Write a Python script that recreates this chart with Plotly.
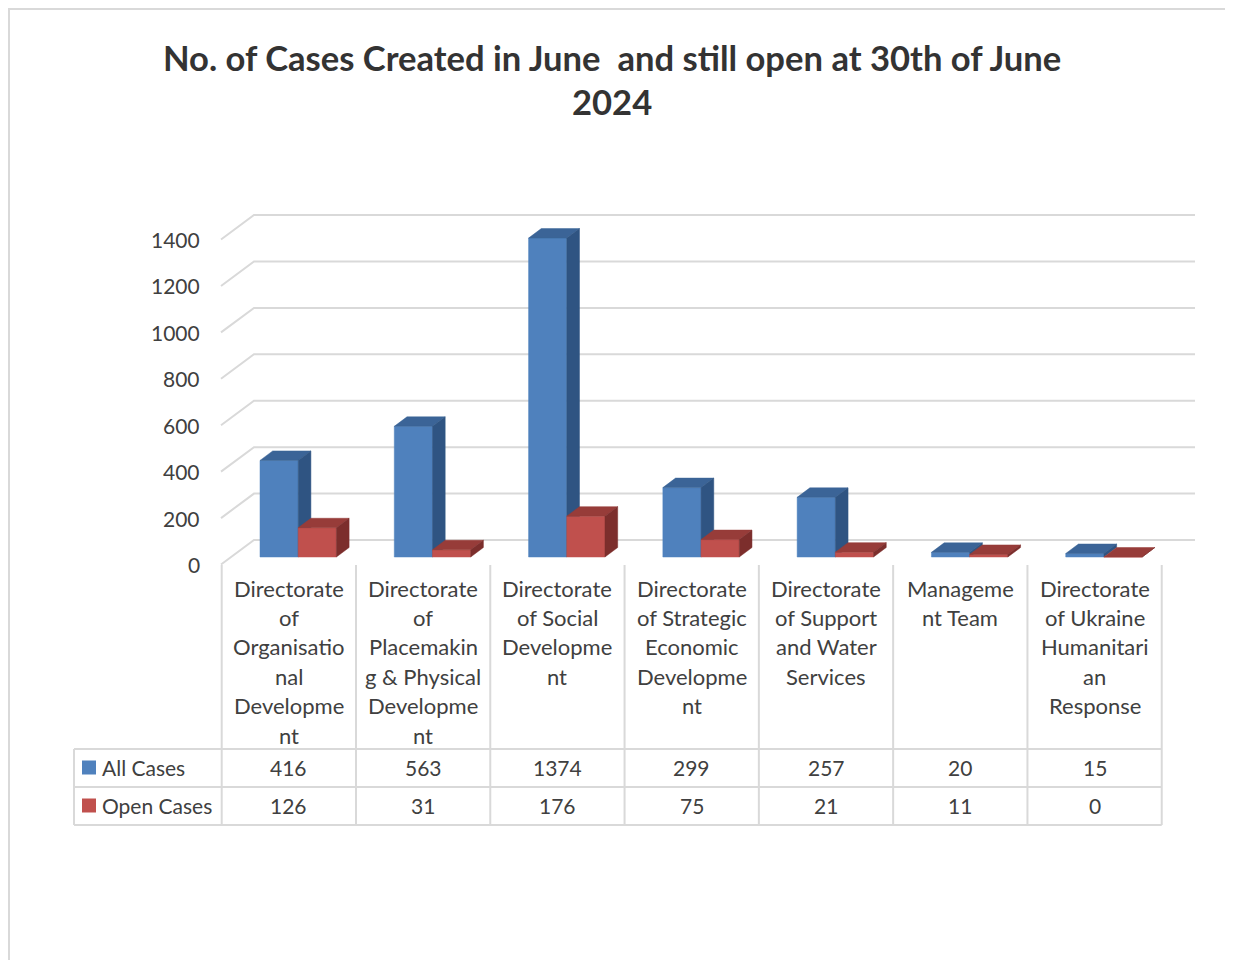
import plotly.graph_objects as go

# ---------------- data ----------------
categories = [
    "Directorate of Organisational Development",
    "Directorate of Placemaking & Physical Development",
    "Directorate of Social Development",
    "Directorate of Strategic Economic Development",
    "Directorate of Support and Water Services",
    "Management Team",
    "Directorate of Ukraine Humanitarian Response",
]
category_label_lines = [
    ["Directorate", "of", "Organisatio", "nal", "Developme", "nt"],
    ["Directorate", "of", "Placemakin", "g & Physical", "Developme", "nt"],
    ["Directorate", "of Social", "Developme", "nt"],
    ["Directorate", "of Strategic", "Economic", "Developme", "nt"],
    ["Directorate", "of Support", "and Water", "Services"],
    ["Manageme", "nt Team"],
    ["Directorate", "of Ukraine", "Humanitari", "an", "Response"],
]
series_names = ["All Cases", "Open Cases"]
all_cases = [416, 563, 1374, 299, 257, 20, 15]
open_cases = [126, 31, 176, 75, 21, 11, 0]
y_ticks = [0, 200, 400, 600, 800, 1000, 1200, 1400]
title_lines = ["No. of Cases Created in June\u00a0 and still open at 30th of June", "2024"]

# ---------------- geometry helpers (reference pixel layout -> axis units) ----------------
PAGE_OFF = 8            # default page margin of the html body
W, H = 1233 - PAGE_OFF, 960 - PAGE_OFF
COL_W = 134.29          # px per category
X_LEFT = 221.7          # px of left edge of first category column
BASE_PY = 557.0         # px of value 0 at bar front
PX_PER_UNIT = 0.2321    # px per value unit

def cx(px):
    return (px - X_LEFT) / COL_W - 0.5

def vy(py):
    return (BASE_PY - py) / PX_PER_UNIT

def xp(px):
    return (px - PAGE_OFF) / W

def yp(py):
    return 1 - (py - PAGE_OFF) / H

FONT = "Lato, 'Open Sans', sans-serif"
TXT = "#404040"
GRID = "#d9d9d9"

bar_w = 38.2 / COL_W
bar_off = cx(260) - 0.0
depth_dx = 12.7 / COL_W
depth_dy = 9.5 / PX_PER_UNIT
floor_front_dy = -7.5 / PX_PER_UNIT
wall_dy = 17.0 / PX_PER_UNIT
wall_x0 = cx(221)
wall_x1 = cx(254)
wall_x2 = cx(1195)

fig = go.Figure()

# back wall gridlines
gx, gy = [], []
for t in y_ticks:
    gx += [wall_x0, wall_x1, wall_x2, None]
    gy += [t + floor_front_dy, t + wall_dy, t + wall_dy, None]
fig.add_trace(go.Scatter(x=gx, y=gy, mode="lines", line=dict(color=GRID, width=2),
                         hoverinfo="skip", showlegend=False))

series = [
    (all_cases, 0, "#4f81bd", "#3b6497", "#2f5482"),
    (open_cases, 1, "#c0504d", "#973c39", "#7c2e2c"),
]
for vals, k, c_front, c_top, c_side in series:
    fx, fy, tx, ty, sx, sy = [], [], [], [], [], []
    for i, v in enumerate(vals):
        xl = i + bar_off + k * bar_w
        xr = xl + bar_w
        fx += [xl, xr, xr, xl, xl, None]
        fy += [0, 0, v, v, 0, None]
        tx += [xl, xr, xr + depth_dx, xl + depth_dx, xl, None]
        ty += [v, v, v + depth_dy, v + depth_dy, v, None]
        sx += [xr, xr + depth_dx, xr + depth_dx, xr, xr, None]
        sy += [0, depth_dy, v + depth_dy, v, 0, None]
    for X, Y, col in [(fx, fy, c_front), (tx, ty, c_top), (sx, sy, c_side)]:
        fig.add_trace(go.Scatter(x=X, y=Y, mode="lines", fill="toself", fillcolor=col,
                                 line=dict(color=col, width=0.5), hoverinfo="skip",
                                 showlegend=False))

annotations = []
shapes = []

# y tick labels
for t in y_ticks:
    annotations.append(dict(x=xp(202), y=t + floor_front_dy, xref="paper", yref="y",
                            text=str(t), showarrow=False, xanchor="right", yanchor="middle",
                            font=dict(family=FONT, size=21, color=TXT)))

# title
for j, line in enumerate(title_lines):
    annotations.append(dict(x=xp(612), y=yp(57 + 45 * j), xref="paper", yref="paper",
                            text="<b>" + line + "</b>", showarrow=False,
                            xanchor="center", yanchor="middle",
                            font=dict(family=FONT, size=34.6, color="#333333")))

# data table lines
col_edges = [X_LEFT + COL_W * k for k in range(len(categories) + 1)]
for k, ex in enumerate(col_edges):
    shapes.append(dict(type="line", xref="paper", yref="paper", x0=xp(ex), x1=xp(ex),
                       y0=yp(565), y1=yp(825), line=dict(color=GRID, width=2)))
shapes.append(dict(type="line", xref="paper", yref="paper", x0=xp(74), x1=xp(74),
                   y0=yp(749), y1=yp(825), line=dict(color=GRID, width=2)))
for ry in [749, 787, 825]:
    shapes.append(dict(type="line", xref="paper", yref="paper", x0=xp(74), x1=xp(col_edges[-1]),
                       y0=yp(ry), y1=yp(ry), line=dict(color=GRID, width=2)))

# category labels
for i, lines in enumerate(category_label_lines):
    for j, line in enumerate(lines):
        annotations.append(dict(x=i, y=yp(588 + 29.4 * j), xref="x", yref="paper",
                                text=line, showarrow=False, xanchor="center", yanchor="middle",
                                font=dict(family=FONT, size=22, color=TXT)))

# table values and legend keys
row_y = [767.5, 805.5]
colors = ["#4f81bd", "#c0504d"]
for r, (name, vals) in enumerate(zip(series_names, [all_cases, open_cases])):
    shapes.append(dict(type="rect", xref="paper", yref="paper", x0=xp(82), x1=xp(96),
                       y0=yp(row_y[r] - 7), y1=yp(row_y[r] + 7), fillcolor=colors[r],
                       line=dict(width=0)))
    annotations.append(dict(x=xp(100), y=yp(row_y[r]), xref="paper", yref="paper",
                            text=name, showarrow=False, xanchor="left", yanchor="middle",
                            font=dict(family=FONT, size=21, color=TXT)))
    for i, v in enumerate(vals):
        annotations.append(dict(x=i, y=yp(row_y[r]), xref="x", yref="paper",
                                text=str(v), showarrow=False, xanchor="center", yanchor="middle",
                                font=dict(family=FONT, size=21, color=TXT)))

# outer chart border (left and top edges visible)
shapes.append(dict(type="rect", xref="paper", yref="paper", x0=xp(PAGE_OFF + 1), x1=xp(1260),
                   y0=yp(990), y1=yp(PAGE_OFF + 1), line=dict(color=GRID, width=2)))

fig.update_layout(
    width=W, height=H, autosize=False,
    margin=dict(l=0, r=0, t=0, b=0),
    paper_bgcolor="white", plot_bgcolor="white",
    showlegend=False,
    xaxis=dict(range=[cx(PAGE_OFF), cx(PAGE_OFF + W)], visible=False, fixedrange=True),
    yaxis=dict(range=[vy(PAGE_OFF + H), vy(PAGE_OFF)], visible=False, fixedrange=True),
    annotations=annotations, shapes=shapes,
)

fig.write_html("out.html")
